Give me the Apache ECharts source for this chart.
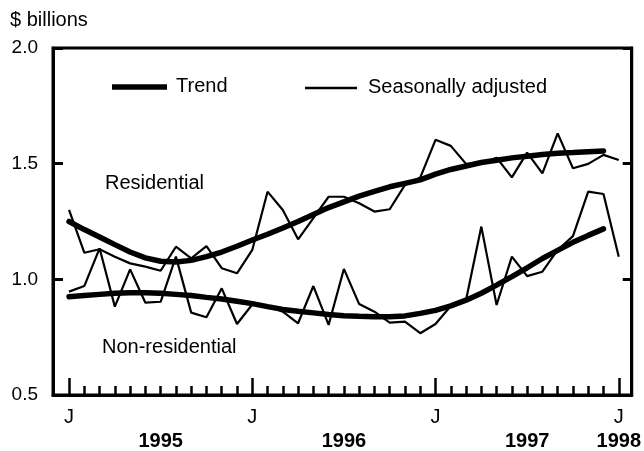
<!DOCTYPE html>
<html>
<head>
<meta charset="UTF-8">
<title>Construction spending</title>
<script src="https://cdn.jsdelivr.net/npm/echarts@6.0.0/dist/echarts.min.js"></script>
<style>
  html, body { margin: 0; padding: 0; background: #fff; }
  #view { width: 644px; height: 451px; }
</style>
</head>
<body>
<div id="view"></div>
<script type="text/javascript">
// months counted from Jan 1995 (0) to Jan 1998 (36)
var resSA = [1.30, 1.115, 1.13, 1.098, 1.069, 1.055, 1.037, 1.141, 1.091, 1.144, 1.048, 1.026, 1.127,
             1.379, 1.30, 1.173, 1.265, 1.357, 1.357, 1.329, 1.293, 1.303, 1.408, 1.44, 1.603,
             1.577, 1.499, 1.50, 1.526, 1.441, 1.548, 1.458, 1.631, 1.48, 1.499, 1.538, 1.516];
var resTrend = [1.25, 1.215, 1.183, 1.15, 1.118, 1.093, 1.078, 1.075, 1.082, 1.098, 1.118, 1.143,
                1.17, 1.195, 1.222, 1.25, 1.28, 1.31, 1.335, 1.36, 1.38, 1.40, 1.415, 1.43,
                1.455, 1.475, 1.49, 1.505, 1.515, 1.525, 1.532, 1.54, 1.545, 1.548, 1.552, 1.555];
var nonresSA = [0.947, 0.971, 1.134, 0.882, 1.043, 0.899, 0.903, 1.098, 0.856, 0.836, 0.961, 0.807, 0.891,
                0.885, 0.860, 0.810, 0.971, 0.803, 1.045, 0.893, 0.860, 0.813, 0.817, 0.767, 0.807,
                0.885, 0.911, 1.228, 0.889, 1.098, 1.014, 1.033, 1.127, 1.187, 1.379, 1.369, 1.098];
var nonresTrend = [0.925, 0.93, 0.935, 0.94, 0.942, 0.942, 0.94, 0.935, 0.93, 0.922, 0.915, 0.905,
                   0.895, 0.882, 0.87, 0.862, 0.855, 0.848, 0.843, 0.84, 0.838, 0.838, 0.842, 0.853,
                   0.866, 0.885, 0.91, 0.94, 0.975, 1.012, 1.05, 1.09, 1.125, 1.16, 1.19, 1.218];

var janMonths = [0, 12, 24, 36];
var yearPos = [6, 18, 30, 36];
var yearLabels = ['1995', '1996', '1997', '1998'];
var yTicks = [0.5, 1.0, 1.5, 2.0];

var font = '"Liberation Sans", Arial, Helvetica, sans-serif';

function pairs(arr) {
    return arr.map(function (v, i) { return [i, v]; });
}

var minorMonths = [];
for (var m = 0; m <= 36; m++) {
    if (m % 12 !== 0) minorMonths.push(m);
}

var myChart = echarts.init(document.getElementById('view'));

var option = {
    animation: false,
    title: {
        text: '$ billions',
        left: 10, top: 10, padding: 0,
        textStyle: { fontFamily: font, fontSize: 20, fontWeight: 'normal', color: '#000' }
    },
    grid: {
        left: 53, right: 11, top: 48, bottom: 56,
        show: true, borderColor: '#000', borderWidth: 3, backgroundColor: 'transparent'
    },
    xAxis: [
        {
            type: 'value', min: -1.05, max: 36.85, position: 'bottom',
            splitLine: { show: false },
            axisLine: { show: true, onZero: false, lineStyle: { color: '#000', width: 3 } },
            axisTick: { show: true, inside: true, length: 9, customValues: minorMonths,
                        lineStyle: { color: '#000', width: 2.5 } },
            axisLabel: { customValues: janMonths, formatter: function () { return 'J'; },
                         margin: 12, fontFamily: font, fontSize: 20, color: '#000' }
        },
        {
            type: 'value', min: -1.05, max: 36.85, position: 'bottom',
            splitLine: { show: false },
            axisLine: { show: false, onZero: false },
            axisTick: { show: true, inside: true, length: 17, customValues: janMonths,
                        lineStyle: { color: '#000', width: 2.5 } },
            axisLabel: { customValues: yearPos,
                         formatter: function (v) { return yearLabels[yearPos.indexOf(v)]; },
                         margin: 36, fontFamily: font, fontSize: 20, fontWeight: 'bold', color: '#000' }
        }
    ],
    yAxis: [
        {
            type: 'value', min: 0.5, max: 2.0, position: 'left',
            splitLine: { show: false },
            axisLine: { show: true, onZero: false, lineStyle: { color: '#000', width: 3 } },
            axisTick: { show: true, inside: true, length: 10, customValues: yTicks,
                        lineStyle: { color: '#000', width: 3 } },
            axisLabel: { customValues: yTicks, formatter: function (v) { return v.toFixed(1); }, margin: 15,
                         fontFamily: font, fontSize: 19, color: '#000' }
        },
        {
            type: 'value', min: 0.5, max: 2.0, position: 'right',
            splitLine: { show: false },
            axisLine: { show: true, onZero: false, lineStyle: { color: '#000', width: 3 } },
            axisTick: { show: true, inside: true, length: 9, customValues: yTicks,
                        lineStyle: { color: '#000', width: 3 } },
            axisLabel: { show: false }
        }
    ],
    graphic: [
        { type: 'line', shape: { x1: 112, y1: 87, x2: 167, y2: 87 }, style: { stroke: '#000', lineWidth: 5.5 } },
        { type: 'text', left: 176, top: 76, style: { text: 'Trend', font: '20px ' + font, fill: '#000' } },
        { type: 'line', shape: { x1: 305, y1: 88, x2: 357, y2: 88 }, style: { stroke: '#000', lineWidth: 2.5 } },
        { type: 'text', left: 368, top: 77, style: { text: 'Seasonally adjusted', font: '20px ' + font, fill: '#000' } },
        { type: 'text', left: 105, top: 173, style: { text: 'Residential', font: '20px ' + font, fill: '#000' } },
        { type: 'text', left: 102, top: 337, style: { text: 'Non-residential', font: '20px ' + font, fill: '#000' } }
    ],
    series: [
        { name: 'Trend', type: 'line', symbol: 'none', data: pairs(resTrend),
          lineStyle: { color: '#000', width: 5.5, cap: 'round' } },
        { name: 'Trend', type: 'line', symbol: 'none', data: pairs(nonresTrend),
          lineStyle: { color: '#000', width: 5.5, cap: 'round' } },
        { name: 'Seasonally adjusted', type: 'line', symbol: 'none', data: pairs(resSA),
          lineStyle: { color: '#000', width: 2.2 } },
        { name: 'Seasonally adjusted', type: 'line', symbol: 'none', data: pairs(nonresSA),
          lineStyle: { color: '#000', width: 2.2 } }
    ]
};

myChart.setOption(option);
</script>
</body>
</html>
